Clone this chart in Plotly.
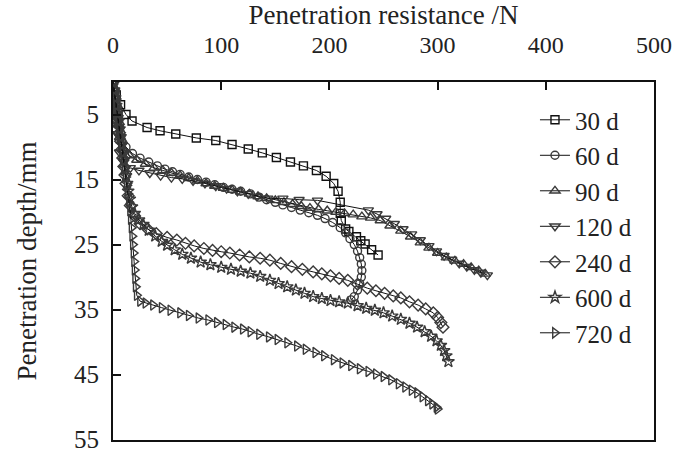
import plotly.graph_objects as go

# ---- data (penetration resistance N, depth mm) ----
x30 = [0, 3, 7, 12, 17.6, 31.5, 43.5, 58, 77, 95, 110, 125, 138, 151, 164, 176, 188, 197, 204, 208, 210, 210, 211, 215, 218, 225, 229, 233, 239, 245]
y30 = [0, 2, 3.5, 5, 6.0, 7.0, 7.5, 8.0, 8.6, 9.0, 9.6, 10.3, 10.9, 11.6, 12.3, 12.9, 13.6, 14.5, 15.6, 16.8, 18.5, 20.2, 21.3, 22.6, 23.0, 23.8, 24.4, 24.9, 25.8, 26.6]

x60 = [0, 1, 2, 3, 4, 5, 6, 7, 8, 12, 18, 25, 33, 41, 48, 55, 62, 70, 78, 86, 94, 102, 110, 118, 127, 135, 142, 150, 157, 165, 173, 181, 189, 196, 203, 210, 215, 219, 223, 226, 228, 229.5, 230, 229.5, 228, 226, 223, 220]
y60 = [0, 1.1, 2.2, 3.3, 4.4, 5.5, 6.6, 7.8, 9.0, 10.0, 11.0, 11.7, 12.3, 12.9, 13.4, 13.8, 14.2, 14.6, 15.0, 15.4, 15.8, 16.2, 16.5, 16.8, 17.2, 17.7, 18.1, 18.5, 18.9, 19.3, 19.7, 20.1, 20.5, 21.0, 21.6, 22.4, 23.2, 24.1, 25.0, 26.0, 27.0, 28.0, 29.0, 30.0, 31.0, 32.0, 33.0, 33.5]

x90 = [0, 1, 2, 3, 4, 5, 6, 10, 15, 22, 30, 38, 46, 54, 62, 70, 78, 86, 94, 102, 110, 118, 126, 134, 142, 150, 158, 166, 174, 182, 190, 198, 206, 214, 222, 230, 238, 247, 256, 266, 275, 284, 292, 300, 308, 316, 324, 331, 338, 344]
y90 = [0, 1.3, 2.6, 3.9, 5.2, 6.5, 8.5, 10.5, 11.3, 12.0, 12.6, 13.2, 13.6, 14.0, 14.4, 14.8, 15.2, 15.6, 16.0, 16.3, 16.6, 16.9, 17.2, 17.6, 17.9, 18.2, 18.5, 18.8, 19.1, 19.4, 19.6, 19.8, 20.0, 20.2, 20.4, 20.7, 20.9, 21.3, 22.1, 22.9, 23.8, 24.7, 25.5, 26.3, 27.0, 27.5, 28.0, 28.5, 29.0, 29.5]

x120 = [0, 1, 2, 3, 4, 6, 10, 16, 24, 34, 44, 54, 64, 74, 85, 95, 105, 115, 125, 133, 143, 157, 172, 189, 236, 244, 252, 260, 268, 276, 284, 292, 299, 306, 313, 320, 327, 334, 340, 346]
y120 = [0, 2.0, 4.0, 6.0, 8.0, 10.8, 12.3, 13.2, 13.6, 14.0, 14.4, 14.7, 14.9, 15.2, 15.6, 16.0, 16.4, 16.8, 17.2, 17.6, 17.9, 17.9, 18.1, 18.2, 19.7, 20.3, 21.0, 21.8, 22.6, 23.4, 24.3, 25.2, 26.0, 26.7, 27.3, 27.9, 28.4, 28.9, 29.3, 29.7]

x240 = [0, 1, 2, 3, 4, 5, 6, 7, 8, 9, 10, 11, 12, 14, 16, 20, 25, 32, 40, 50, 59, 67, 75, 84, 92, 100, 108, 117, 126, 136, 145, 155, 165, 175, 185, 193, 201, 209, 217, 226, 235, 243, 251, 259, 266, 274, 282, 289, 296, 300, 303, 305]
y240 = [0, 1.3, 2.6, 3.9, 5.2, 6.5, 7.8, 9.1, 10.4, 11.7, 13.0, 14.3, 15.6, 17.5, 19.0, 20.6, 21.8, 22.6, 23.3, 23.9, 24.3, 24.8, 25.2, 25.6, 25.9, 26.1, 26.3, 26.6, 26.9, 27.1, 27.4, 27.9, 28.4, 28.8, 29.2, 29.5, 29.8, 30.2, 30.5, 31.1, 31.7, 32.1, 32.5, 32.9, 33.2, 33.8, 34.3, 34.9, 35.5, 36.2, 37.0, 37.7]

x600 = [0, 1, 2, 3, 4, 5, 6, 7, 8, 9, 10, 11, 12, 13, 14, 15.5, 17.5, 20, 24, 28, 33, 39, 45, 50, 57, 64, 72, 81, 90, 100, 109, 118, 127, 136, 145, 153, 161, 169, 177, 185, 193, 201, 209, 217, 226, 234, 242, 250, 258, 266, 274, 281, 288, 294, 299, 303, 306, 308, 310]
y600 = [0, 1.2, 2.4, 3.6, 4.8, 6.0, 7.2, 8.4, 9.6, 10.8, 12.0, 13.2, 14.4, 15.6, 16.8, 18.0, 19.2, 20.2, 21.2, 21.9, 22.8, 23.7, 24.5, 25.1, 25.8, 26.5, 27.1, 27.7, 28.1, 28.5, 28.8, 29.1, 29.4, 29.9, 30.5, 31.0, 31.5, 32.0, 32.5, 33.0, 33.3, 33.6, 33.8, 34.0, 34.4, 34.8, 35.1, 35.5, 36.0, 36.5, 37.1, 37.7, 38.4, 39.1, 39.8, 40.5, 41.3, 42.1, 43.0]

x720 = [0, 1, 2, 3, 4, 5, 6, 7, 8, 9, 10, 11, 12, 13, 14, 15, 15.8, 16.5, 17.2, 17.8, 18.4, 19, 19.5, 20, 20.5, 21, 22, 25, 30, 37, 45, 53, 62, 70, 79, 88, 96, 104, 112, 120, 127, 135, 144, 152, 161, 170, 178, 187, 195, 204, 212, 220, 228, 236, 243, 250, 257, 264, 270, 276, 281, 286, 291, 295, 299, 300]
y720 = [0, 1.2, 2.4, 3.6, 4.8, 6.0, 7.2, 8.4, 9.6, 10.8, 12.0, 13.3, 14.6, 15.9, 17.2, 18.5, 19.8, 21.1, 22.4, 23.7, 25.0, 26.3, 27.6, 28.9, 30.2, 31.5, 32.8, 33.7, 34.0, 34.3, 34.7, 35.1, 35.5, 35.9, 36.3, 36.6, 37.0, 37.3, 37.7, 38.0, 38.4, 38.8, 39.2, 39.6, 40.1, 40.6, 41.1, 41.6, 42.1, 42.7, 43.2, 43.6, 44.1, 44.5, 44.9, 45.3, 45.8, 46.4, 46.9, 47.4, 47.8, 48.4, 49.0, 49.5, 50.0, 50.3]

series = [
    ("30 d", x30, y30, "square-open", 8),
    ("60 d", x60, y60, "circle-open", 8),
    ("90 d", x90, y90, "triangle-up-open", 9),
    ("120 d", x120, y120, "triangle-down-open", 9),
    ("240 d", x240, y240, "diamond-open", 9),
    ("600 d", x600, y600, "star-open", 9),
    ("720 d", x720, y720, "triangle-right-open", 9),
]

x_ticks = [0, 100, 200, 300, 400, 500]
y_ticks = [5, 15, 25, 35, 45, 55]

FONT = "Liberation Serif"

fig = go.Figure()
for i, (name, xs, ys, sym, sz) in enumerate(series):
    mcol = "#111" if name == "30 d" else "#3a3a3a"
    fig.add_trace(go.Scatter(
        x=xs, y=ys, name=name, mode="lines+markers",
        legendgroup=f"g{i}",
        line=dict(color="#111", width=1),
        marker=dict(symbol=sym, size=sz, color=mcol, line=dict(width=1.4, color=mcol)),
    ))

fig.update_layout(
    width=678, height=449,
    margin=dict(l=113, r=24, t=82, b=9),
    paper_bgcolor="white", plot_bgcolor="white",
    font=dict(family=FONT, size=24, color="#222"),
    showlegend=True,
    legend=dict(x=0.78, y=0.958, xanchor="left", yanchor="top",
                bgcolor="rgba(0,0,0,0)", font=dict(size=25, family=FONT, color="#222"),
                tracegroupgap=0),
    xaxis=dict(side="top", range=[0, 500], tickvals=x_ticks, automargin=False,
               ticks="inside", ticklen=8, tickcolor="#111", tickwidth=1.5,
               ticklabelstandoff=17, tickfont=dict(size=24), ticklabeloverflow="allow",
               showline=True, linecolor="#111", linewidth=2, mirror=True,
               showgrid=False, zeroline=False,
               title=dict(text="Penetration resistance /N", standoff=2,
                          font=dict(size=27, family=FONT))),
    yaxis=dict(range=[55.05, 0], tickvals=y_ticks, automargin=False,
               ticks="inside", ticklen=8, tickcolor="#111", tickwidth=1.5,
               ticklabelstandoff=7, tickfont=dict(size=25), ticklabeloverflow="allow",
               showline=True, linecolor="#111", linewidth=2, mirror=True,
               showgrid=False, zeroline=False,
               title=dict(text="Penetration depth/mm", standoff=30,
                          font=dict(size=27, family=FONT))),
)

fig.write_html("out.html", config={"displayModeBar": False},
               post_script="document.body.style.margin='0';")
